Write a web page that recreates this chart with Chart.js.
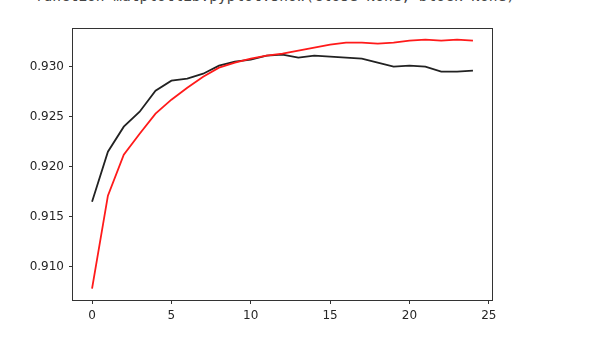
<!DOCTYPE html>
<html>
<head>
<meta charset="utf-8">
<script src="https://cdn.jsdelivr.net/npm/chart.js@4/dist/chart.umd.min.js"></script>
<style>
    html, body { margin: 0; padding: 0; background: #fff; }
    #wrap { position: relative; width: 596px; height: 343px; overflow: hidden; }
    #out {
        position: absolute; left: 26px; top: -12px;
        font: 14.5px 'DejaVu Sans Mono', monospace; line-height: 17px;
        color: #444; white-space: pre;
    }
    canvas { position: absolute; left: 0; top: 0; }
</style>
</head>
<body>
<div id="wrap">
    <div id="out">&lt;function matplotlib.pyplot.show(close=None, block=None)&gt;</div>
    <canvas id="accChart" width="596" height="343"></canvas>
</div>
<script>
    const epochs = Array.from({ length: 25 }, (_, i) => i);

    const blackValues = [
        0.9165, 0.9215, 0.9240, 0.9255, 0.9276, 0.9286, 0.9288, 0.9293, 0.9301, 0.9305,
        0.9307, 0.9311, 0.9312, 0.9309, 0.9311, 0.9310, 0.9309, 0.9308, 0.9304, 0.9300,
        0.9301, 0.9300, 0.9295, 0.9295, 0.9296,
    ];

    const redValues = [
        0.9078, 0.9171, 0.9212, 0.9233, 0.9253, 0.9267, 0.9279, 0.9290, 0.9299, 0.9304,
        0.9308, 0.9311, 0.9313, 0.9316, 0.9319, 0.9322, 0.9324, 0.9324, 0.9323, 0.9324,
        0.9326, 0.9327, 0.9326, 0.9327, 0.9326,
    ];

    const xTicks = [0, 5, 10, 15, 20, 25];
    const yTicks = [0.910, 0.915, 0.920, 0.925, 0.930];

    function toPoints(values) {
        return values.map((v, i) => ({ x: epochs[i], y: v }));
    }

    // axes frame like matplotlib spines
    const frame = {
        id: 'frame',
        afterDatasetsDraw(chart) {
            const { ctx, chartArea: a } = chart;
            ctx.save();
            ctx.strokeStyle = '#333';
            ctx.lineWidth = 1;
            ctx.strokeRect(a.left - 0.5, a.top + 0.5, a.right - a.left + 1, a.bottom - a.top);
            ctx.restore();
        },
    };

    const tickFont = { family: 'DejaVu Sans', size: 12 };

    new Chart(document.getElementById('accChart').getContext('2d'), {
        type: 'line',
        data: {
            datasets: [
                {
                    label: 'black',
                    data: toPoints(blackValues),
                    borderColor: '#222',
                    borderWidth: 1.8,
                    pointRadius: 0,
                    tension: 0,
                    order: 2,
                },
                {
                    label: 'red',
                    data: toPoints(redValues),
                    borderColor: '#ff1a1a',
                    borderWidth: 1.8,
                    pointRadius: 0,
                    tension: 0,
                    order: 1,
                },
            ],
        },
        options: {
            responsive: false,
            animation: false,
            layout: { padding: { left: 0, right: 104, top: 28, bottom: 0 } },
            plugins: {
                legend: { display: false },
                tooltip: { enabled: false },
            },
            scales: {
                x: {
                    type: 'linear',
                    min: -1.2,
                    max: 25.2,
                    afterBuildTicks: (s) => { s.ticks = xTicks.map((v) => ({ value: v })); },
                    afterFit: (s) => { s.height = 43; },
                    border: { display: false },
                    grid: { drawOnChartArea: false, drawTicks: true, tickLength: 4, color: '#333' },
                    ticks: { color: '#262626', font: tickFont, padding: 5, maxRotation: 0 },
                },
                y: {
                    type: 'linear',
                    min: 0.90667,
                    max: 0.93387,
                    afterBuildTicks: (s) => { s.ticks = yTicks.map((v) => ({ value: v })); },
                    afterFit: (s) => { s.width = 73; },
                    border: { display: false },
                    grid: { drawOnChartArea: false, drawTicks: true, tickLength: 4, color: '#333' },
                    ticks: {
                        color: '#262626',
                        font: tickFont,
                        padding: 5,
                        callback: (v) => Number(v).toFixed(3),
                    },
                },
            },
        },
        plugins: [frame],
    });
</script>
</body>
</html>
